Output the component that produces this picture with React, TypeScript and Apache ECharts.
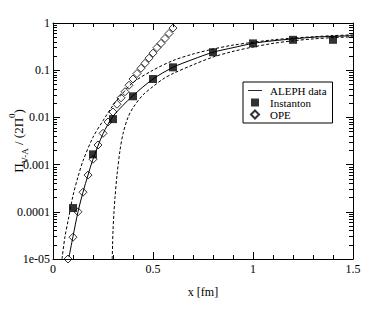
import React, { useEffect, useRef } from "react";
import * as echarts from "echarts";

// ---- data ----
const alephX = [0.08, 0.1, 0.125, 0.15, 0.175, 0.2, 0.25, 0.3, 0.35, 0.4, 0.5, 0.6, 0.7, 0.8, 0.9, 1.0, 1.1, 1.2, 1.3, 1.4, 1.5];
const alephY = [1.1e-5, 3e-5, 1e-4, 2.6e-4, 6e-4, 1.3e-3, 4.5e-3, 0.0105, 0.018, 0.029, 0.065, 0.115, 0.17, 0.24, 0.3, 0.37, 0.42, 0.46, 0.5, 0.52, 0.54];

const upperX = [0.045, 0.06, 0.077, 0.1, 0.125, 0.15, 0.2, 0.25, 0.3, 0.35, 0.4, 0.5, 0.6, 0.7, 0.8, 0.9, 1.0, 1.1, 1.2, 1.3, 1.4, 1.5];
const upperY = [1e-5, 3e-5, 7e-5, 2.2e-4, 5.5e-4, 1.2e-3, 3.8e-3, 8.5e-3, 0.018, 0.033, 0.055, 0.1, 0.16, 0.22, 0.28, 0.34, 0.39, 0.44, 0.48, 0.51, 0.54, 0.56];

const lowerX = [0.296, 0.298, 0.3, 0.305, 0.31, 0.32, 0.335, 0.35, 0.375, 0.4, 0.45, 0.5, 0.55, 0.6, 0.7, 0.8, 0.9, 1.0, 1.1, 1.2, 1.3, 1.4, 1.5];
const lowerY = [1e-5, 2e-5, 4e-5, 1e-4, 2e-4, 6e-4, 2e-3, 4.5e-3, 0.01, 0.016, 0.03, 0.045, 0.065, 0.085, 0.13, 0.19, 0.25, 0.31, 0.37, 0.42, 0.46, 0.49, 0.51];

const instX = [0.1, 0.2, 0.3, 0.4, 0.5, 0.6, 0.8, 1.0, 1.2, 1.4];
const instY = [1.2e-4, 1.65e-3, 9.2e-3, 0.028, 0.065, 0.115, 0.24, 0.37, 0.44, 0.44];

const opeX = [0.075, 0.1, 0.125, 0.15, 0.175, 0.2, 0.225, 0.25, 0.275, 0.3, 0.32, 0.34, 0.36, 0.38, 0.4, 0.42, 0.44, 0.46, 0.48, 0.5, 0.52, 0.54, 0.56, 0.58, 0.6];
const opeY = [1.0e-5, 2.9e-5, 1.0e-4, 2.6e-4, 6.0e-4, 1.3e-3, 2.6e-3, 4.6e-3, 8.0e-3, 0.013, 0.019, 0.026, 0.035, 0.048, 0.065, 0.085, 0.11, 0.14, 0.18, 0.23, 0.3, 0.37, 0.47, 0.6, 0.78];

const yMajorTicks = [1e-5, 1e-4, 1e-3, 1e-2, 1e-1, 1];
const yTickLabels = ["1e-05", "0.0001", "0.001", "0.01", "0.1", "1"];
const xTickLabels = ["0", "0.5", "1", "1.5"];
const legendNames = ["ALEPH data", "Instanton", "OPE"];

const FONT = "'Liberation Serif', 'Times New Roman', serif";

const zip = (xs: number[], ys: number[]) => xs.map((x, i) => [x, ys[i]]);

export default function App() {
  const ref = useRef<HTMLDivElement>(null);
  useEffect(() => {
    if (!ref.current) return;
    const chart = echarts.init(ref.current, undefined, { renderer: "svg" });

    const yMinor: number[] = [];
    for (let e = -5; e < 0; e++) {
      for (let m = 2; m <= 9; m++) yMinor.push(m * Math.pow(10, e));
    }

    const yLabel = (v: number) => {
      const i = Math.round(Math.log10(v)) + 5;
      return yTickLabels[i] ?? "";
    };
    const xLabel = (v: number) => {
      const i = Math.round(v * 2);
      return xTickLabels[i] ?? "";
    };

    const axisLine = { show: true, lineStyle: { color: "#000", width: 1 } };
    const labelStyle = { color: "#000", fontFamily: FONT, fontSize: 12, fontWeight: "normal" };

    const xBase = {
      type: "value",
      min: 0,
      max: 1.5,
      interval: 0.5,
      splitLine: { show: false },
      axisLine,
      axisTick: { show: true, inside: true, length: 7, lineStyle: { color: "#000" } },
      minorTick: { show: true, splitNumber: 5, length: 4, lineStyle: { color: "#000" } },
    };

    const yBase = {
      type: "log",
      logBase: 10,
      min: 1e-5,
      max: 1,
      splitLine: { show: false },
      minorSplitLine: { show: false },
    };

    chart.setOption({
      animation: false,
      backgroundColor: "#fff",
      textStyle: { fontFamily: FONT },
      grid: { left: 53, right: 29, top: 23, bottom: 51, containLabel: false, outerBoundsMode: "none" },
      xAxis: [
        {
          ...xBase,
          position: "bottom",
          name: "x [fm]",
          nameLocation: "middle",
          nameGap: 27,
          nameMoveOverlap: false,
          nameTextStyle: { color: "#000", fontFamily: FONT, fontSize: 12 },
          axisLabel: { ...labelStyle, margin: 4, formatter: xLabel },
        },
        {
          ...xBase,
          position: "top",
          axisLabel: { show: false },
        },
      ],
      yAxis: [
        {
          ...yBase,
          position: "left",
          name: "{p|Π}{sub|V-A}{n| / (2Π}{sup|0}{n|)}",
          nameLocation: "middle",
          nameRotate: 90,
          nameGap: 24,
          nameMoveOverlap: false,
          nameTextStyle: {
            color: "#000",
            fontFamily: FONT,
            rich: {
              p: { fontFamily: FONT, fontSize: 13, color: "#000", lineHeight: 22, verticalAlign: "middle" },
              n: { fontFamily: FONT, fontSize: 13, color: "#000", lineHeight: 22, verticalAlign: "middle" },
              sub: { fontFamily: FONT, fontSize: 9, color: "#000", lineHeight: 10, verticalAlign: "bottom" },
              sup: { fontFamily: FONT, fontSize: 9, color: "#000", lineHeight: 10, verticalAlign: "top" },
            },
          },
          axisLine,
          axisTick: { show: true, inside: true, length: 7, customValues: yMajorTicks, lineStyle: { color: "#000" } },
          axisLabel: { ...labelStyle, margin: 3, customValues: yMajorTicks, formatter: yLabel },
        },
        {
          ...yBase,
          position: "left",
          offset: 0,
          axisLine: { show: false },
          axisTick: { show: true, inside: true, length: 4, customValues: yMinor, lineStyle: { color: "#000" } },
          axisLabel: { show: false },
        },
        {
          ...yBase,
          position: "right",
          offset: 0,
          axisLine,
          axisTick: { show: true, inside: true, length: 7, customValues: yMajorTicks, lineStyle: { color: "#000" } },
          axisLabel: { show: false },
        },
        {
          ...yBase,
          position: "right",
          offset: 0,
          axisLine: { show: false },
          axisTick: { show: true, inside: true, length: 4, customValues: yMinor, lineStyle: { color: "#000" } },
          axisLabel: { show: false },
        },
      ],
      legend: {
        orient: "vertical",
        left: 243,
        top: 82,
        data: [
          { name: legendNames[0], icon: "path://M0 0H20V1.2H0Z" },
          { name: legendNames[1], icon: "path://M0 0H1V1H0Z" },
          { name: legendNames[2], icon: "path://M1 0L2 1L1 2L0 1Z" },
        ],
        symbolKeepAspect: true,
        borderColor: "#000",
        borderWidth: 1,
        borderRadius: 0,
        padding: [3, 6, 3, 5],
        itemGap: 1,
        itemWidth: 14,
        itemHeight: 8,
        textStyle: { color: "#000", fontFamily: FONT, fontSize: 11, fontWeight: "normal", lineHeight: 10, padding: [0, 0, 0, 3] },
        selectedMode: false,
        backgroundColor: "#fff",
      },
      series: [
        {
          name: "upper",
          type: "line",
          data: zip(upperX, upperY),
          symbol: "none",
          smooth: 0.3,
          lineStyle: { color: "#000", width: 1, type: [3, 2] },
          z: 2,
        },
        {
          name: "lower",
          type: "line",
          data: zip(lowerX, lowerY),
          symbol: "none",
          smooth: 0.3,
          lineStyle: { color: "#000", width: 1, type: [3, 2] },
          z: 2,
        },
        {
          name: "ALEPH data",
          type: "line",
          data: zip(alephX, alephY),
          symbol: "none",
          smooth: 0.3,
          lineStyle: { color: "#000", width: 1 },
          itemStyle: { color: "#000" },
          z: 3,
        },
        {
          name: "Instanton",
          type: "scatter",
          data: zip(instX, instY),
          symbol: "rect",
          symbolSize: 8,
          itemStyle: { color: "#000" },
          z: 4,
        },
        {
          name: "OPE",
          type: "scatter",
          data: zip(opeX, opeY),
          symbol: "diamond",
          symbolSize: 8,
          itemStyle: { color: "rgba(255,255,255,0)", borderColor: "#000", borderWidth: 1 },
          z: 5,
        },
      ],
    });

    return () => chart.dispose();
  }, []);

  return <div ref={ref} style={{ width: 382, height: 310, position: "absolute", left: 0, top: 0 }} />;
}
